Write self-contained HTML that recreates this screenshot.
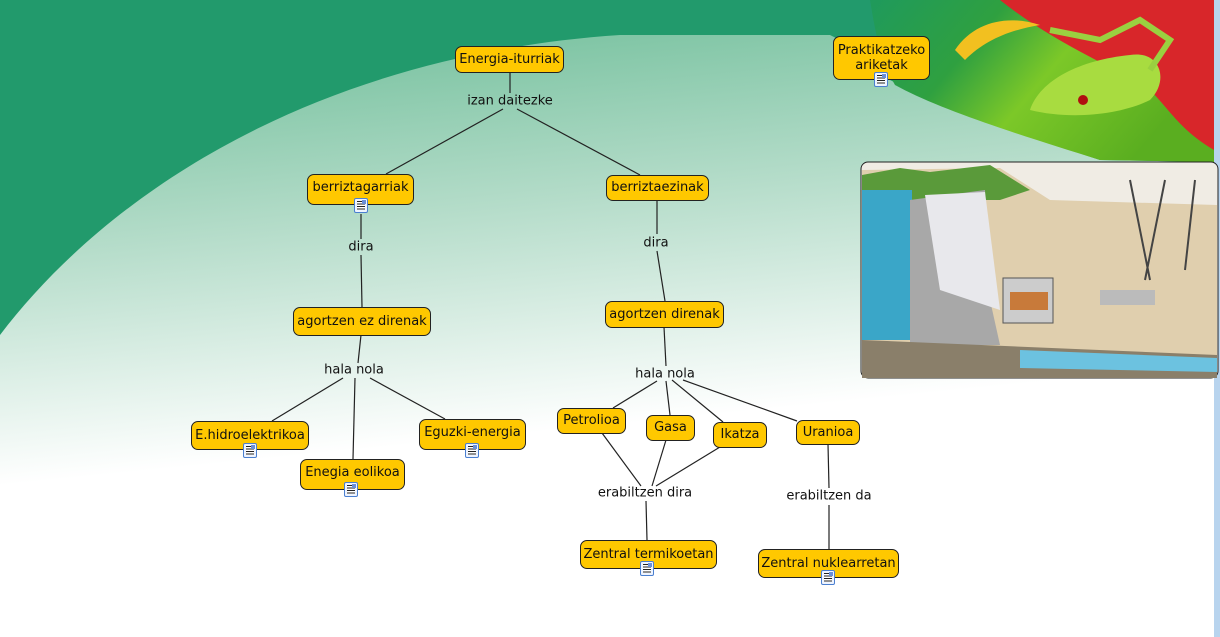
<!DOCTYPE html>
<html><head><meta charset="utf-8">
<style>
body{margin:0;width:1220px;height:637px;overflow:hidden;position:relative;font-family:"DejaVu Sans","Liberation Sans",sans-serif;}
.n{position:absolute;box-sizing:border-box;background:#ffc800;border:1px solid #222;border-radius:7px;font-size:13px;color:#111;text-align:center;display:flex;align-items:center;justify-content:center;line-height:16px;}
.l{position:absolute;font-size:13px;color:#111;transform:translate(-50%,-50%);white-space:nowrap;background:transparent;}
.ic{position:absolute;width:14px;height:15px;box-sizing:border-box;border:1px solid #4a7fd0;border-radius:2px;background:#eef4ff;}
.ic:before{content:"";position:absolute;left:2px;top:2px;width:8px;height:9px;background:repeating-linear-gradient(#222 0 1px,#fff 1px 2.5px);}
.ic:after{content:"";position:absolute;right:1px;top:1px;width:4px;height:4px;background:#6a8fd8;}
</style></head><body>
<svg width="1220" height="637" style="position:absolute;left:0;top:0">
<defs>
<linearGradient id="g" x1="0" y1="0" x2="0.2" y2="1">
<stop offset="0" stop-color="#6dbd98"/><stop offset="0.35" stop-color="#b4dcc9"/><stop offset="0.72" stop-color="#ffffff"/></linearGradient>
<linearGradient id="leaf" x1="0" y1="0" x2="1" y2="0.4">
<stop offset="0" stop-color="#1f9a5c"/><stop offset="0.35" stop-color="#2fa040"/><stop offset="0.6" stop-color="#7cc828"/><stop offset="1" stop-color="#5aae20"/></linearGradient>
</defs>
<rect width="1220" height="637" fill="#229a6c"/>
<path d="M0,335 C110,190 320,55 620,35 L830,35 C850,45 870,55 890,80 C950,110 1040,140 1100,160 L1214,162 L1214,637 L0,637 Z" fill="url(#g)"/>
<path d="M870,0 L1214,0 L1214,162 L1100,160 C1020,135 940,110 895,85 C880,60 875,30 870,0 Z" fill="url(#leaf)"/>
<path d="M1000,0 L1214,0 L1214,150 C1180,130 1170,110 1150,90 C1100,60 1050,40 1000,0 Z" fill="#d8262a"/>
<path d="M955,50 C975,20 1010,15 1040,25 C1010,30 985,40 965,60 Z" fill="#f2c020"/>
<path d="M1030,110 C1040,80 1080,60 1130,55 C1160,50 1170,80 1150,100 C1120,115 1070,120 1030,110 Z" fill="#a8dc40"/>
<path d="M1050,30 L1100,40 L1140,20 L1170,40 L1150,70" stroke="#9ad040" stroke-width="6" fill="none"/>
<circle cx="1083" cy="100" r="5" fill="#b01010"/>
<rect x="1214" y="0" width="6" height="637" fill="#b8d4ee"/>
<g stroke="#222" stroke-width="1.2" fill="none">
<line x1="510" y1="72" x2="510" y2="93"/>
<line x1="503" y1="109" x2="386" y2="174"/>
<line x1="517" y1="109" x2="640" y2="175"/>
<line x1="361" y1="214" x2="361" y2="239"/>
<line x1="361" y1="255" x2="362" y2="307"/>
<line x1="657" y1="200" x2="657" y2="234"/>
<line x1="657" y1="251" x2="665" y2="301"/>
<line x1="361" y1="335" x2="358" y2="363"/>
<line x1="343" y1="378" x2="272" y2="421"/>
<line x1="355" y1="378" x2="353" y2="459"/>
<line x1="370" y1="378" x2="445" y2="419"/>
<line x1="664" y1="327" x2="666" y2="366"/>
<line x1="657" y1="381" x2="613" y2="408"/>
<line x1="666" y1="381" x2="670" y2="415"/>
<line x1="672" y1="380" x2="723" y2="422"/>
<line x1="683" y1="380" x2="797" y2="421"/>
<line x1="602" y1="433" x2="641" y2="486"/>
<line x1="666" y1="440" x2="652" y2="486"/>
<line x1="720" y1="447" x2="656" y2="486"/>
<line x1="646" y1="501" x2="647" y2="540"/>
<line x1="828" y1="444" x2="829" y2="488"/>
<line x1="829" y1="505" x2="829" y2="549"/>
</g>
<g>
<rect x="861" y="162" width="357" height="216" rx="7" fill="#f0ece4" stroke="#222"/>
<path d="M862,170 L1000,168 L1050,200 L1217,205 L1217,372 L862,372 Z" fill="#e0cfae"/>
<path d="M862,175 L900,168 L930,172 L990,165 L1030,190 L1000,200 L862,200 Z" fill="#5a9a3a"/>
<rect x="862" y="190" width="50" height="150" fill="#3aa6c8"/>
<path d="M910,200 L985,190 L990,300 L1000,345 L910,345 Z" fill="#a8a8a8"/>
<path d="M925,195 L985,192 L1000,310 L940,290 Z" fill="#e8e8ec"/>
<rect x="1003" y="278" width="50" height="45" fill="#ccc" stroke="#555"/>
<rect x="1010" y="292" width="38" height="18" fill="#c87a3a"/>
<path d="M862,340 L1217,355 L1217,378 L862,378 Z" fill="#8a7f6a"/>
<path d="M1020,350 L1217,358 L1217,372 L1020,368 Z" fill="#6cc2e0"/>
<path d="M1130,180 L1150,280 M1165,180 L1145,280 M1195,180 L1185,270" stroke="#444" stroke-width="2"/>
<rect x="1100" y="290" width="55" height="15" fill="#bbb"/>
</g>
</svg>
<div class="n" style="left:455px;top:46px;width:109px;height:27px">Energia-iturriak</div>
<div class="l" style="left:510px;top:101px">izan daitezke</div>
<div class="n" style="left:307px;top:174px;width:107px;height:31px;align-items:flex-start;padding-top:5px">berriztagarriak</div>
<div class="ic" style="left:354px;top:198px"></div>
<div class="n" style="left:606px;top:175px;width:103px;height:26px">berriztaezinak</div>
<div class="l" style="left:361px;top:247px">dira</div>
<div class="l" style="left:656px;top:243px">dira</div>
<div class="n" style="left:293px;top:307px;width:138px;height:29px">agortzen ez direnak</div>
<div class="n" style="left:605px;top:301px;width:119px;height:27px">agortzen direnak</div>
<div class="l" style="left:354px;top:370px">hala nola</div>
<div class="l" style="left:665px;top:374px">hala nola</div>
<div class="n" style="left:191px;top:421px;width:118px;height:29px">E.hidroelektrikoa</div>
<div class="ic" style="left:243px;top:443px"></div>
<div class="n" style="left:300px;top:459px;width:105px;height:31px;align-items:flex-start;padding-top:5px">Enegia eolikoa</div>
<div class="ic" style="left:344px;top:482px"></div>
<div class="n" style="left:419px;top:419px;width:107px;height:31px;align-items:flex-start;padding-top:5px">Eguzki-energia</div>
<div class="ic" style="left:465px;top:443px"></div>
<div class="n" style="left:557px;top:408px;width:69px;height:26px">Petrolioa</div>
<div class="n" style="left:646px;top:415px;width:49px;height:26px">Gasa</div>
<div class="n" style="left:713px;top:422px;width:54px;height:26px">Ikatza</div>
<div class="n" style="left:796px;top:420px;width:64px;height:25px">Uranioa</div>
<div class="l" style="left:645px;top:493px">erabiltzen dira</div>
<div class="l" style="left:829px;top:496px">erabiltzen da</div>
<div class="n" style="left:580px;top:540px;width:137px;height:29px">Zentral termikoetan</div>
<div class="ic" style="left:640px;top:561px"></div>
<div class="n" style="left:758px;top:549px;width:141px;height:29px">Zentral nuklearretan</div>
<div class="ic" style="left:821px;top:570px"></div>
<div class="n" style="left:833px;top:36px;width:97px;height:44px;line-height:15px">Praktikatzeko<br>ariketak</div>
<div class="ic" style="left:874px;top:72px"></div>
</body></html>
